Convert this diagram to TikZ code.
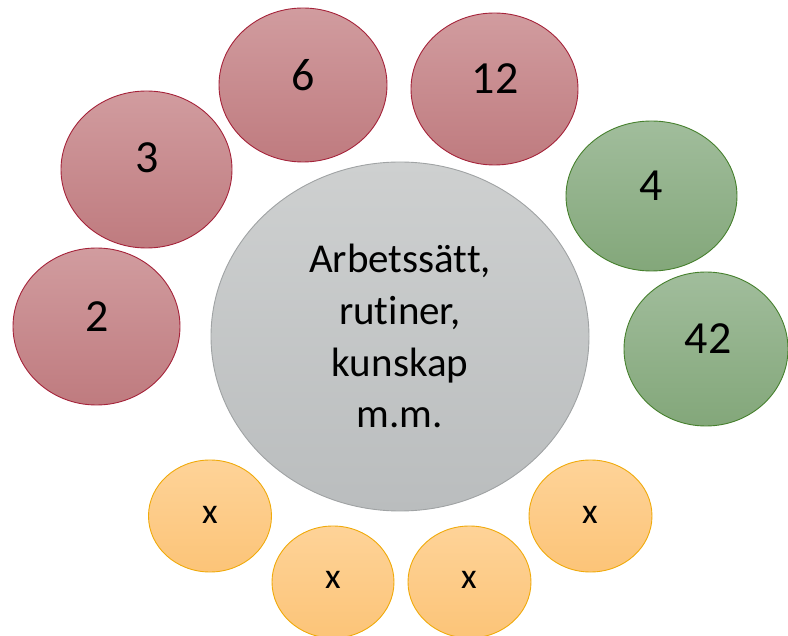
\documentclass[tikz,border=0pt]{standalone}
\usepackage{fontspec}
\setmainfont{Carlito}[Ligatures={NoCommon}]
\usetikzlibrary{shapes.geometric}
\definecolor{redtop}{RGB}{209,156,159}
\definecolor{redbot}{RGB}{191,123,127}
\definecolor{redline}{RGB}{165,35,58}
\definecolor{grntop}{RGB}{161,189,156}
\definecolor{grnbot}{RGB}{131,167,122}
\definecolor{grnline}{RGB}{70,128,45}
\definecolor{orgtop}{RGB}{254,211,152}
\definecolor{orgbot}{RGB}{252,196,120}
\definecolor{orgline}{RGB}{240,170,10}
\definecolor{grytop}{RGB}{206,208,208}
\definecolor{grybot}{RGB}{186,189,190}
\definecolor{gryline}{RGB}{160,163,164}
\tikzset{
  blob/.style={ellipse, inner sep=0pt, line width=0.9pt},
  redblob/.style={blob, draw=redline, top color=redtop, bottom color=redbot},
  grnblob/.style={blob, draw=grnline, top color=grntop, bottom color=grnbot},
  orgblob/.style={blob, draw=orgline, top color=orgtop, bottom color=orgbot},
  gryblob/.style={blob, draw=gryline, top color=grytop, bottom color=grybot},
  bigtxt/.style={anchor=base, inner sep=0pt, font=\fontsize{46}{52}\selectfont},
  smalltxt/.style={anchor=base, inner sep=0pt, font=\fontsize{36}{40}\selectfont},
  midtxt/.style={inner sep=0pt, align=center, font=\fontsize{41}{51.7}\selectfont}
}
\begin{document}
\begin{tikzpicture}[x=1pt,y=-1pt]
\useasboundingbox (0,0) rectangle (788,636);
% central
\node[gryblob, minimum width=378pt, minimum height=349pt] (c) at (400,336.5) {};
% red
\node[redblob, minimum width=168pt, minimum height=154pt] (r6) at (303,85) {};
\node[redblob, minimum width=167pt, minimum height=152pt] (r12) at (494.5,89) {};
\node[redblob, minimum width=171pt, minimum height=157pt] (r3) at (146.5,169.5) {};
\node[redblob, minimum width=167pt, minimum height=157pt] (r2) at (96.5,326.5) {};
% green
\node[grnblob, minimum width=171pt, minimum height=150pt] (g4) at (651.5,196) {};
\node[grnblob, minimum width=164pt, minimum height=154pt] (g42) at (706,349) {};
% orange
\node[orgblob, minimum width=123pt, minimum height=112pt] (o1) at (210,516) {};
\node[orgblob, minimum width=122pt, minimum height=112pt] (o2) at (333,582) {};
\node[orgblob, minimum width=123pt, minimum height=112pt] (o3) at (469.5,582) {};
\node[orgblob, minimum width=123pt, minimum height=112pt] (o4) at (590.5,516) {};
% texts
\node[bigtxt] (t6) at (303,91) {6};
\node[bigtxt] (t12) at (495,94) {12};
\node[bigtxt] (t3) at (147,173) {3};
\node[bigtxt] (t2) at (97,332) {2};
\node[bigtxt] (t4) at (651,201) {4};
\node[bigtxt] (t42) at (708,354) {42};
\node[smalltxt] (x1) at (210,523) {x};
\node[smalltxt] (x2) at (333,588) {x};
\node[smalltxt] (x3) at (469,588) {x};
\node[smalltxt] (x4) at (590,523) {x};
\node[midtxt, anchor=base] (ct) at (400,428) {Arbetssätt,\\rutiner,\\kunskap\\m.m.};
\end{tikzpicture}
\end{document}
